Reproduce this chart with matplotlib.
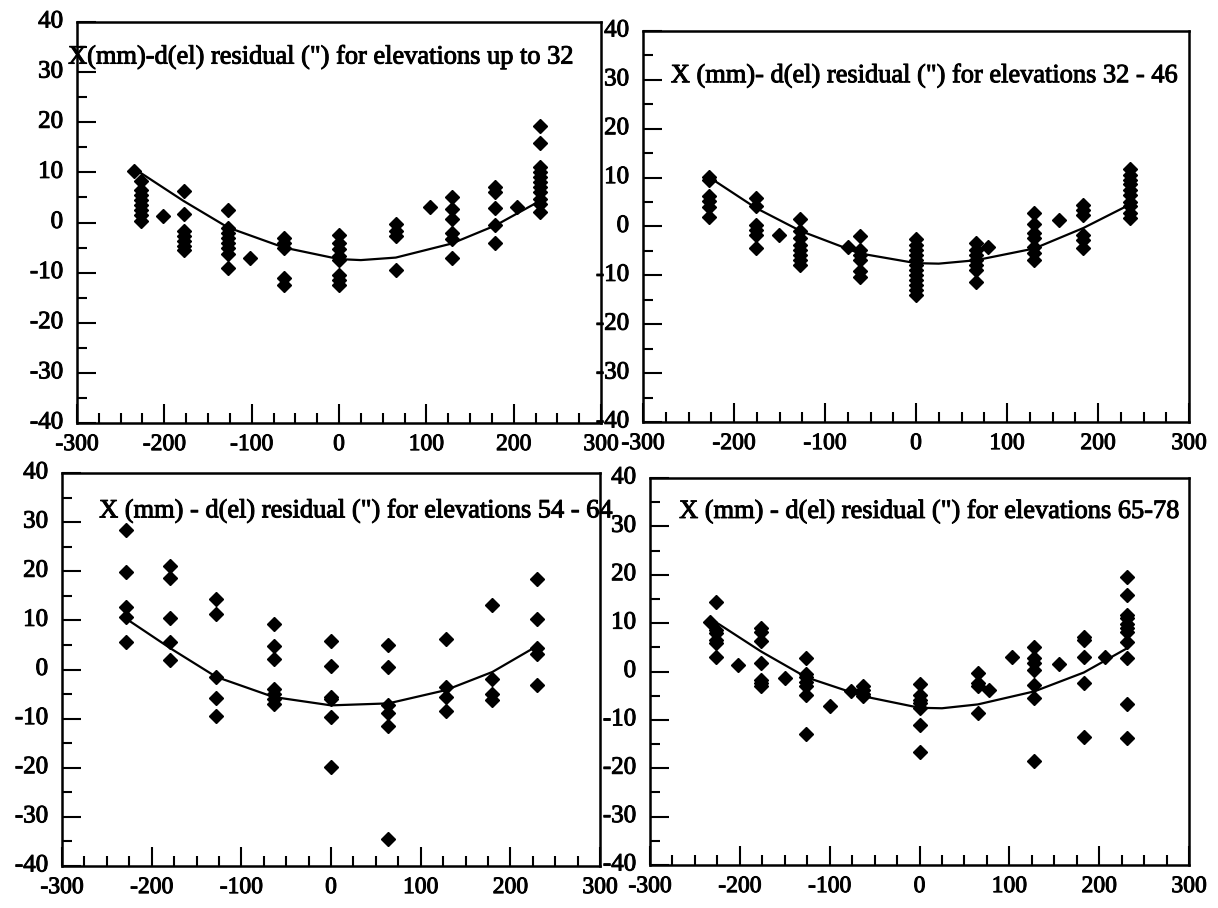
import matplotlib
matplotlib.use("Agg")
import matplotlib.pyplot as plt
import matplotlib.patheffects as pe
import matplotlib.transforms as mtransforms
from matplotlib.ticker import MultipleLocator

plt.rcParams['font.family'] = ['Liberation Serif', 'DejaVu Serif']

# elevations up to 32
tl_x = [-235,
        -227, -227, -227, -227, -227, -227, -227, -227,
        -202,
        -178, -178, -178, -178, -178, -178, -178,
        -127, -127, -127, -127, -127, -127, -127, -127,
        -102,
        -63, -63, -63, -63, -63,
        0, 0, 0, 0, 0, 0, 0, 0,
        65, 65, 65, 65,
        104,
        129, 129, 129, 129, 129, 129,
        179, 179, 179, 179, 179,
        204,
        230, 230, 230, 230, 230, 230, 230, 230, 230, 230, 230]
tl_y = [10.3,
        8.3, 6.5, 5.5, 4.5, 3.5, 2.5, 1.5, 0.3,
        1.3,
        6.2, 1.7, -1.7, -2.7, -3.7, -4.7, -5.5,
        2.5, -1, -2, -3, -4, -5, -6.3, -9,
        -7.1,
        -3, -4, -5, -11, -12.5,
        -2.5, -4, -5.3, -6.7, -7.5, -10.5, -11.5, -12.5,
        -0.2, -1.7, -2.7, -9.5,
        3,
        5, 2.7, 0.7, -2, -3.3, -7,
        7.1, 6, 2.9, -0.5, -4,
        3,
        19.3, 15.8, 11, 10, 9, 8, 7, 6, 4.7, 3.7, 2]
tl_fit_x = [-235, -178, -127, -63, 0, 25, 65, 129, 179, 230]
tl_fit_y = [10.8, 4.3, -1.0, -5.0, -7.3, -7.5, -7.0, -4.2, -0.6, 4.3]

# elevations 32 - 46
tr_x = [-227, -227, -227, -227, -227, -227,
        -176, -176, -176, -176, -176, -176,
        -151,
        -127, -127, -127, -127, -127, -127, -127, -127,
        -75,
        -62, -62, -62, -62, -62, -62,
        0, 0, 0, 0, 0, 0, 0, 0, 0, 0, 0, 0,
        66, 66, 66, 66, 66, 66, 66,
        79,
        130, 130, 130, 130, 130, 130, 130,
        157,
        184, 184, 184, 184, 184, 184,
        235, 235, 235, 235, 235, 235, 235, 235, 235, 235]
tr_y = [10.2, 9.5, 6.2, 5.2, 4, 2,
        5.8, 4.1, 0.3, -0.7, -1.7, -4.5,
        -1.7,
        1.6, -1, -2.4, -3.8, -4.8, -5.8, -6.8, -7.9,
        -4.2,
        -2, -4.8, -5.8, -6.8, -9.2, -10.3,
        -2.5, -3.8, -4.8, -5.8, -6.8, -7.9, -8.9, -9.9, -11, -12, -13, -14,
        -3.4, -4.8, -5.8, -6.8, -7.9, -8.9, -11.3,
        -4.1,
        2.7, 0.5, -1.4, -2.4, -4.1, -5.5, -6.8,
        1.4,
        4.3, 3.4, 2.4, -1.7, -2.7, -4.5,
        11.8, 10.6, 9.6, 8.6, 7.5, 6.5, 5.1, 4.1, 2.7, 1.7]
tr_fit_x = [-225, -176, -127, -62, 0, 25, 66, 130, 184, 235]
tr_fit_y = [9.8, 3.8, -0.9, -5.5, -7.5, -7.6, -6.9, -4.5, -0.3, 4.5]

# elevations 54 - 64
bl_x = [-229, -229, -229, -229, -229,
        -179, -179, -179, -179, -179,
        -128, -128, -128, -128, -128,
        -64, -64, -64, -64, -64, -64, -64,
        0, 0, 0, 0, 0, 0,
        64, 64, 64, 64, 64, 64,
        128, 128, 128, 128,
        180, 180, 180, 180,
        230, 230, 230, 230, 230]
bl_y = [28.4, 19.9, 12.8, 10.6, 5.6,
        21, 18.6, 10.5, 5.5, 1.9,
        14.3, 11.3, -1.5, -5.9, -9.5,
        9.2, 4.8, 2.2, -3.9, -4.9, -6.1, -7.1,
        5.9, 0.8, -5.6, -6.1, -9.7, -19.9,
        5, 0.5, -7.3, -8.8, -11.6, -34.5,
        6.3, -3.5, -5.6, -8.4,
        13.1, -2, -4.9, -6.3,
        18.4, 10.3, 4.3, 3.1, -3.2]
bl_fit_x = [-229, -179, -128, -64, 0, 64, 128, 180, 230]
bl_fit_y = [10.4, 4.3, -1.5, -5.6, -7.3, -6.9, -4.2, -0.5, 4.8]

# elevations 65-78
br_x = [-233,
        -226, -226, -226, -226, -226, -226,
        -202,
        -176, -176, -176, -176, -176, -176, -176,
        -150,
        -126, -126, -126, -126, -126, -126, -126,
        -100,
        -76,
        -63, -63, -63, -63,
        0, 0, 0, 0, 0, 0, 0,
        65, 65, 65, 65,
        77,
        103,
        128, 128, 128, 128, 128, 128, 128,
        155,
        183, 183, 183, 183, 183,
        206,
        231, 231, 231, 231, 231, 231, 231, 231, 231, 231, 231]
br_y = [10.3,
        14.4, 8.6, 7.9, 6.5, 5.8, 3.1,
        1.3,
        8.9, 8.2, 6.4, 1.7, -1.7, -2.4, -3.1,
        -1.4,
        2.7, -0.5, -1.2, -2.2, -3.1, -4.9, -12.9,
        -7.1,
        -4.1,
        -3.1, -3.8, -4.6, -5.1,
        -2.6, -4.8, -5.8, -6.5, -7.5, -11, -16.6,
        -0.3, -2.4, -3.1, -8.6,
        -3.8,
        3.1,
        5.1, 2.7, 1.7, 0.3, -2.7, -5.5, -18.5,
        1.5,
        7.2, 6.5, 2.9, -2.4, -13.5,
        3.1,
        19.5, 15.8, 11.6, 11, 9.9, 8.9, 8.2, 6.2, 2.7, -6.8, -13.7]
br_fit_x = [-230, -176, -126, -63, 0, 25, 65, 128, 183, 231]
br_fit_y = [10.6, 4.1, -1.2, -5.1, -7.5, -7.6, -6.8, -4.1, -0.2, 4.8]

titles = ['X(mm)-d(el) residual (") for elevations up to 32',
          'X (mm)- d(el) residual (") for elevations 32 - 46',
          'X (mm) - d(el) residual (") for elevations 54 - 64',
          'X (mm) - d(el) residual (") for elevations 65-78']

W, H = 1218, 908
# axes boxes in pixels: left, top, right, bottom
boxes = [(77, 22, 601, 423), (643, 31, 1189, 422),
         (62, 473, 600, 866), (650, 478, 1189, 865)]
title_pos = [(-0.017, 0.912), (0.051, 0.885), (0.069, 0.903), (0.054, 0.913)]

# scanned print looks heavier than plain Times
thick = [pe.withStroke(linewidth=0.7, foreground='black')]

fig = plt.figure(figsize=(W / 100, H / 100), dpi=100)
# y labels sit a touch above their ticks in the original
lift = mtransforms.ScaledTranslation(0, 3 / 100, fig.dpi_scale_trans)

panels = [(tl_x, tl_y, tl_fit_x, tl_fit_y), (tr_x, tr_y, tr_fit_x, tr_fit_y),
          (bl_x, bl_y, bl_fit_x, bl_fit_y), (br_x, br_y, br_fit_x, br_fit_y)]

for i, (px, py, fx, fy) in enumerate(panels):
    l, t, r, b = boxes[i]
    ax = fig.add_axes([l / W, 1 - b / H, (r - l) / W, (b - t) / H])
    ax.plot(fx, fy, color='black', linewidth=1.6, zorder=2)
    ax.plot(px, py, linestyle='none', marker='D', markersize=7,
            color='black', zorder=3)
    ax.set_xlim(-300, 300)
    ax.set_ylim(-40, 40)
    ax.xaxis.set_major_locator(MultipleLocator(100))
    ax.xaxis.set_minor_locator(MultipleLocator(25))
    ax.yaxis.set_major_locator(MultipleLocator(10))
    ax.yaxis.set_minor_locator(MultipleLocator(5))
    ax.tick_params(which='both', direction='in', width=1.5, color='black',
                   top=False, right=False)
    ax.tick_params(which='major', length=14)
    ax.tick_params(which='minor', length=7)
    ax.tick_params(axis='x', pad=8, labelsize=17)
    ax.tick_params(axis='y', pad=10, labelsize=18)
    ax.set_xticklabels([f"{int(v)}" for v in ax.get_xticks()])
    ax.set_yticklabels([f"{int(v)}" for v in ax.get_yticks()])
    for lab in ax.get_xticklabels():
        lab.set_path_effects(thick)
    for lab in ax.get_yticklabels():
        lab.set_path_effects(thick)
        lab.set_transform(lab.get_transform() + lift)
    for s in ax.spines.values():
        s.set_linewidth(1.8)
    tx, ty = title_pos[i]
    ax.text(tx, ty, titles[i], transform=ax.transAxes, fontsize=19,
            ha='left', va='center', color='black', clip_on=False, zorder=4,
            path_effects=thick)

fig.savefig('out.png', dpi=100)
